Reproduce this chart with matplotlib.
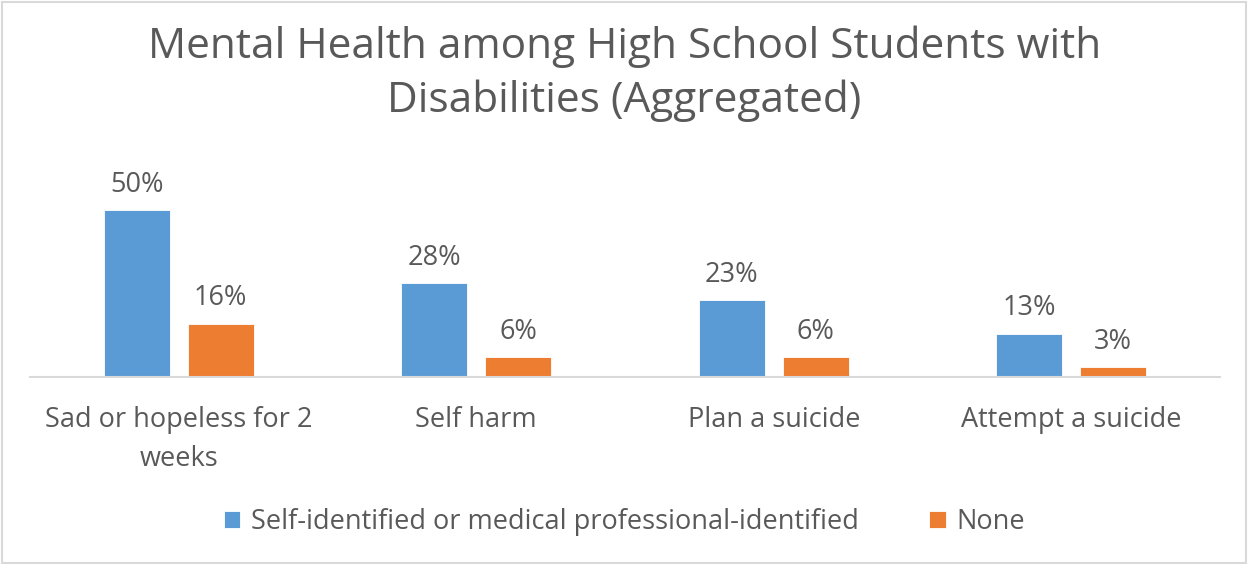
import numpy as np
import matplotlib.pyplot as plt
from matplotlib.patches import Rectangle

categories = ["Sad or hopeless for 2\nweeks", "Self harm", "Plan a suicide", "Attempt a suicide"]
identified = [50, 28, 23, 13]
none_group = [16, 6, 6, 3]
series_names = ["Self-identified or medical professional-identified", "None"]

BLUE = "#5B9BD5"
ORANGE = "#ED7D31"
TEXT = "#595959"

plt.rcParams["font.family"] = ["Open Sans", "DejaVu Sans"]

fig = plt.figure(figsize=(12.49, 5.64), dpi=100)
# axes spans the plot area; baseline sits at y=377 px
ax = fig.add_axes([30 / 1249, 187 / 564, 1190 / 1249, 200 / 564])

x = np.arange(len(categories))
width = 0.222
offset = 0.141
b1 = ax.bar(x - offset, identified, width, color=BLUE, edgecolor="white", linewidth=0.6, label=series_names[0])
b2 = ax.bar(x + offset, none_group, width, color=ORANGE, edgecolor="white", linewidth=0.6, label=series_names[1])

for bars, vals in ((b1, identified), (b2, none_group)):
    for rect, v in zip(bars, vals):
        ax.annotate(f"{v}%", (rect.get_x() + rect.get_width() / 2, v),
                    xytext=(0, 8), textcoords="offset points",
                    ha="center", va="bottom", fontsize=19.5, color=TEXT)

ax.set_xlim(-0.5, len(categories) - 0.5)
ax.set_ylim(0, 200 / 3.34)
ax.set_xticks(x)
ax.set_xticklabels(categories, fontsize=19.5, color=TEXT, linespacing=1.5)
ax.tick_params(axis="x", length=0, pad=21)
ax.set_yticks([])
for side in ("top", "left", "right"):
    ax.spines[side].set_visible(False)
ax.spines["bottom"].set_color("#D9D9D9")
ax.spines["bottom"].set_linewidth(1.5)

fig.text(0.5, 0.955, "Mental Health among High School Students with\nDisabilities (Aggregated)",
         ha="center", va="top", fontsize=30.5, color=TEXT, linespacing=1.36)

fig.legend(loc="center", bbox_to_anchor=(0.5, 1 - 522 / 564), ncol=2, frameon=False,
           fontsize=19.5, labelcolor=TEXT, handlelength=0.6, handleheight=0.6,
           handletextpad=0.4, columnspacing=2.6)

# light frame around the chart
fig.patches.append(Rectangle((0.0015, 0.002), 0.996, 0.995, transform=fig.transFigure,
                             fill=False, edgecolor="#D9D9D9", linewidth=1.5))

fig.savefig("out.png", dpi=100)
